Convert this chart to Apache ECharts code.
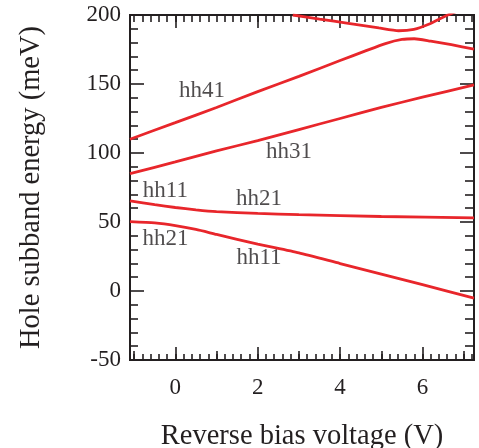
<!DOCTYPE html>
<html>
<head>
<meta charset="utf-8">
<script src="https://cdn.jsdelivr.net/npm/echarts@6/dist/echarts.min.js"></script>
<style>
html,body{margin:0;padding:0;background:#fff;}
#chart{width:479px;height:448px;}
</style>
</head>
<body>
<div id="chart"></div>
<script>
// ---- data ----
var xTickLabels = [0, 2, 4, 6];
var yTickLabels = [-50, 0, 50, 100, 150, 200];

var bandTop = [[2.85,200],[3.5,197],[4.2,194],[4.94,190.6],[5.42,188.6],[5.79,189.6],[6.15,193.3],[6.56,199.3],[6.9,203.5]];
var bandHh41 = [[-1.1,110],[0,122],[1,133],[2,144.5],[3,155.5],[4,167],[4.6,173.8],[5.1,179.3],[5.5,182.3],[5.8,182.8],[6.2,181],[6.7,178.5],[7.25,175.3]];
var bandHh31 = [[-1.1,85],[0,93.5],[1,101.5],[2,109],[3,117],[4,125],[5,133],[6,140.5],[7.25,149.3]];
var bandHh21 = [[-1.1,65.3],[-0.5,62.6],[0,60.5],[0.5,58.8],[1,57.5],[2,56.2],[3,55.3],[5,54],[7.25,53]];
var bandHh11 = [[-1.1,50.2],[-0.5,49.3],[0,47.4],[0.5,44.6],[1,41],[2,34],[3,27.6],[4,19.9],[5,12.3],[6,4.6],[7.25,-5.2]];

var annotations = [
  {name:'hh41', value:[0.65,145]},
  {name:'hh31', value:[2.76,100.7]},
  {name:'hh11', value:[-0.24,72.5]},
  {name:'hh21', value:[2.03,66.7]},
  {name:'hh21', value:[-0.24,37.7]},
  {name:'hh11', value:[2.03,24]}
];

var XMIN = -1.1, XMAX = 7.25, YMIN = -50, YMAX = 200;
var FONT = "'Liberation Serif','Times New Roman',serif";
var INK = '#231f20';
var RED = '#e8262b';

function range(a, b, step){ var r=[]; for(var v=a; v<=b+1e-9; v+=step){ r.push(Math.round(v*10)/10); } return r; }
var oddTicks = [-1,1,3,5,7];
var minorTicks = range(-1.0, 7.2, 0.2);

function xAx(pos, ticks, len, showLabel){
  return {
    type:'value', gridIndex:0, position:pos, min:XMIN, max:XMAX,
    axisLine:{show:true, onZero:false, lineStyle:{color:INK, width:2}},
    axisTick:{show:true, inside:true, length:len, customValues:ticks, lineStyle:{color:INK, width:1.6}},
    axisLabel:{show:showLabel, customValues:xTickLabels, color:INK, fontFamily:FONT, fontSize:23, margin:16},
    splitLine:{show:false}
  };
}

var lineStyle = {color:RED, width:2.8};
function band(d){ return {type:'line', data:d, smooth:0.2, showSymbol:false, symbol:'none', lineStyle:lineStyle, clip:true, xAxisIndex:0, yAxisIndex:0}; }

var chart = echarts.init(document.getElementById('chart'), null, {renderer:'canvas'});
chart.setOption({
  backgroundColor:'#fff',
  animation:false,
  grid:{left:130, right:5, top:15, bottom:88, containLabel:false, outerBoundsMode:'none'},
  xAxis:[
    Object.assign(xAx('bottom', xTickLabels, 13, true), {
      name:'Reverse bias voltage (V)', nameLocation:'middle', nameGap:62,
      nameTextStyle:{color:INK, fontFamily:FONT, fontSize:28.5}
    }),
    xAx('bottom', oddTicks, 9, false),
    xAx('bottom', minorTicks, 6, false),
    xAx('top', xTickLabels, 13, false),
    xAx('top', minorTicks, 7, false)
  ],
  yAxis:[
    {
      type:'value', position:'left', min:YMIN, max:YMAX, interval:50,
      name:'Hole subband energy (meV)', nameLocation:'middle', nameGap:84,
      nameTextStyle:{color:INK, fontFamily:FONT, fontSize:28.5},
      axisLine:{show:true, onZero:false, lineStyle:{color:INK, width:2}},
      axisTick:{show:true, inside:true, length:14, lineStyle:{color:INK, width:1.6}},
      minorTick:{show:true, splitNumber:5, length:8, lineStyle:{color:INK, width:1.6}},
      axisLabel:{color:INK, fontFamily:FONT, fontSize:23, margin:9},
      splitLine:{show:false}, minorSplitLine:{show:false}
    },
    {
      type:'value', position:'right', min:YMIN, max:YMAX, interval:50,
      axisLine:{show:true, onZero:false, lineStyle:{color:INK, width:2}},
      axisTick:{show:true, inside:true, length:14, lineStyle:{color:INK, width:1.6}},
      minorTick:{show:true, splitNumber:5, length:9, lineStyle:{color:INK, width:1.6}},
      axisLabel:{show:false},
      splitLine:{show:false}, minorSplitLine:{show:false}
    }
  ],
  series:[
    band(bandTop), band(bandHh41), band(bandHh31), band(bandHh21), band(bandHh11),
    {
      type:'scatter', data:annotations, symbolSize:0, xAxisIndex:0, yAxisIndex:0,
      label:{show:true, position:'inside', formatter:'{b}', color:INK, fontFamily:FONT, fontSize:23},
      silent:true
    }
  ]
});
</script>
</body>
</html>
